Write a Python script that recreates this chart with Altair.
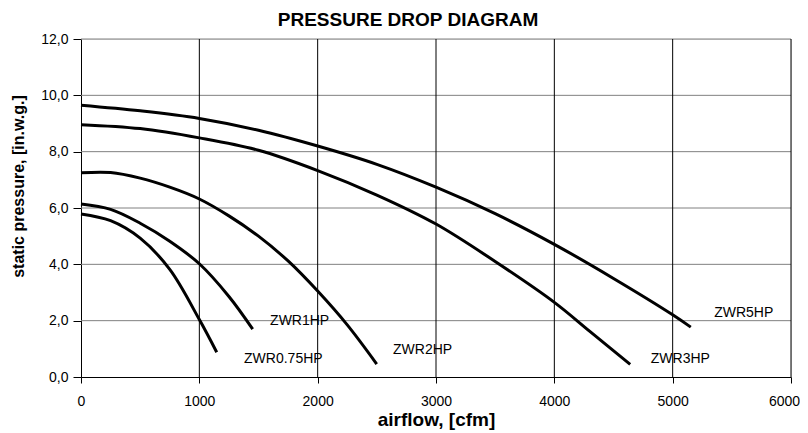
import altair as alt
import pandas as pd

# Curve data (airflow cfm, static pressure in.w.g.)
x_075 = [0, 250, 500, 750, 1000, 1147]
y_075 = [5.79, 5.55, 4.93, 3.82, 2.04, 0.88]

x_1 = [0, 250, 500, 750, 1000, 1250, 1451]
y_1 = [6.14, 5.95, 5.46, 4.82, 4.02, 2.86, 1.70]

x_2 = [0, 250, 500, 750, 1000, 1250, 1500, 1750, 2000, 2250, 2499]
y_2 = [7.25, 7.26, 7.06, 6.74, 6.32, 5.72, 5.00, 4.12, 3.05, 1.85, 0.46]

x_3 = [0, 500, 1000, 1500, 2000, 2500, 3000, 3500, 4000, 4300, 4641]
y_3 = [8.96, 8.82, 8.49, 8.05, 7.33, 6.46, 5.43, 4.10, 2.65, 1.62, 0.45]

x_5 = [0, 500, 1000, 1500, 2000, 2500, 3000, 3500, 4000, 4500, 5000, 5153]
y_5 = [9.65, 9.45, 9.18, 8.76, 8.20, 7.55, 6.74, 5.80, 4.71, 3.50, 2.21, 1.77]

series_names = ["ZWR0.75HP", "ZWR1HP", "ZWR2HP", "ZWR3HP", "ZWR5HP"]
label_x = [1378, 1598, 2637, 4815, 5351]
label_y = [0.63, 2.00, 0.96, 0.63, 2.27]

rows = []
for name, xs, ys in zip(series_names, [x_075, x_1, x_2, x_3, x_5],
                        [y_075, y_1, y_2, y_3, y_5]):
    for i, (a, b) in enumerate(zip(xs, ys)):
        rows.append({"series": name, "airflow": a, "pressure": b, "order": i})
df = pd.DataFrame(rows)
labels = pd.DataFrame({"series": series_names, "airflow": label_x, "pressure": label_y})

FONT = "Liberation Sans"

xscale = alt.Scale(domain=[0, 6000], nice=False)
yscale = alt.Scale(domain=[0, 12], nice=False)

vgrid = alt.Chart(pd.DataFrame({"v": [1000, 2000, 3000, 4000, 5000, 6000]})).mark_rule(
    color="black", strokeWidth=1).encode(x=alt.X("v:Q", scale=xscale))
hgrid = alt.Chart(pd.DataFrame({"h": [2, 4, 6, 8, 10, 12]})).mark_rule(
    color="#808080", strokeWidth=1).encode(y=alt.Y("h:Q", scale=yscale))

lines = alt.Chart(df).mark_line(
    color="black", strokeWidth=3, interpolate="catmull-rom").encode(
    x=alt.X("airflow:Q", scale=xscale,
            axis=alt.Axis(title="airflow, [cfm]", values=[0, 1000, 2000, 3000, 4000, 5000, 6000],
                          format="d", grid=False, domainColor="black", tickColor="black",
                          tickSize=6, labelFontSize=14, labelFont=FONT, labelColor="black",
                          labelPadding=11, labelFlush=False,
                          labelOffset={"condition": {"test": "datum.value == 6000", "value": -7},
                                       "value": 0},
                          titleFont=FONT, titleFontSize=19, titleFontWeight="bold",
                          titleColor="black", titlePadding=2)),
    y=alt.Y("pressure:Q", scale=yscale,
            axis=alt.Axis(title="static pressure, [in.w.g.]", values=[0, 2, 4, 6, 8, 10, 12],
                          labelExpr="replace(format(datum.value, '.1f'), '.', ',')",
                          grid=False, domainColor="black", tickColor="black", tickSize=8,
                          labelFontSize=14, labelFont=FONT, labelColor="black", labelPadding=5,
                          labelFlush=False,
                          titleFont=FONT, titleFontSize=16, titleFontWeight="bold",
                          titleColor="black", titlePadding=14, titleY=147)),
    detail="series:N",
    order="order:Q",
)

text = alt.Chart(labels).mark_text(
    align="left", baseline="middle", font=FONT, fontSize=14, color="black").encode(
    x=alt.X("airflow:Q", scale=xscale), y=alt.Y("pressure:Q", scale=yscale), text="series:N")

chart = alt.layer(hgrid, vgrid, lines, text).properties(
    width=710, height=338,
    title=alt.TitleParams("PRESSURE DROP DIAGRAM", font=FONT, fontSize=19, fontWeight="bold",
                          color="black", anchor="middle", offset=2, dx=-28),
    autosize=alt.AutoSizeParams(type="none"),
    padding={"left": 73, "top": 31, "right": 9, "bottom": 55},
).configure_view(stroke="black", strokeWidth=1).configure(background="white")

chart.save("out.html", embed_options={"renderer": "svg", "actions": False})
